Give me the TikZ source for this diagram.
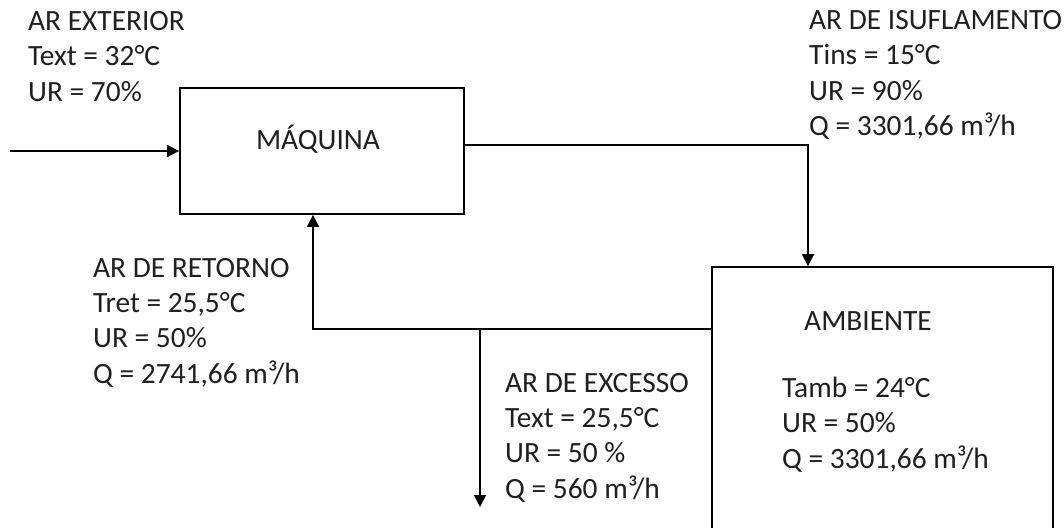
\documentclass[tikz,border=0pt]{standalone}
\usepackage{fontspec}
\setmainfont{Carlito}
\usetikzlibrary{arrows.meta}
\tikzset{
  lbl/.style={anchor=base west, align=left, inner sep=0pt, font=\fontsize{29.4}{35.3}\selectfont, text=black!88},
  ttl/.style={anchor=base, inner sep=0pt, font=\fontsize{29.4}{35.3}\selectfont, text=black!88},
  box/.style={draw, line width=1.8pt, rectangle, inner sep=0pt},
  arr/.style={line width=1.7pt, -{Triangle[length=12pt,width=12pt]}}
}
\begin{document}
\begin{tikzpicture}[x=1pt,y=-1pt]
\useasboundingbox (0,0) rectangle (1064,527);
\clip (0,0) rectangle (1064,527);
% boxes
\node[box, minimum width=284pt, minimum height=126pt] (maq) at (322,151) {};
\node[ttl] (maqtxt) at (318,149) {MÁQUINA};
\node[box, minimum width=341pt, minimum height=280pt] (amb) at (882.5,407) {};
\node[ttl] (ambtxt) at (868,330) {AMBIENTE};
% labels (anchor = baseline of last line)
\node[lbl] (ambdat) at (782,468) {Tamb = 24°C\\UR = 50\%\\Q = 3301,66 m³/h};
\node[lbl] (ext) at (28,101) {AR EXTERIOR\\Text = 32°C\\UR = 70\%};
\node[lbl] (ins) at (809,135.5) {AR DE ISUFLAMENTO\\Tins = 15°C\\UR = 90\%\\Q = 3301,66 m³/h};
\node[lbl] (ret) at (93,383) {AR DE RETORNO\\Tret = 25,5°C\\UR = 50\%\\Q = 2741,66 m³/h};
\node[lbl] (exc) at (505,498) {AR DE EXCESSO\\Text = 25,5°C\\UR = 50 \%\\Q = 560 m³/h};
% connectors
\coordinate (in0) at (10,151);
\draw[arr] (in0) -- (maq.west);
\coordinate (c1) at (808,145);
\draw[arr] (maq.east |- c1) -- (c1) -- (c1 |- amb.north);
\coordinate (r1) at (313,329);
\draw[arr] (amb.west |- r1) -- (r1) -- (r1 |- maq.south);
\coordinate (j) at (480,329);
\coordinate (ex) at (480,507);
\draw[arr] (j) -- (ex);
\end{tikzpicture}
\end{document}
